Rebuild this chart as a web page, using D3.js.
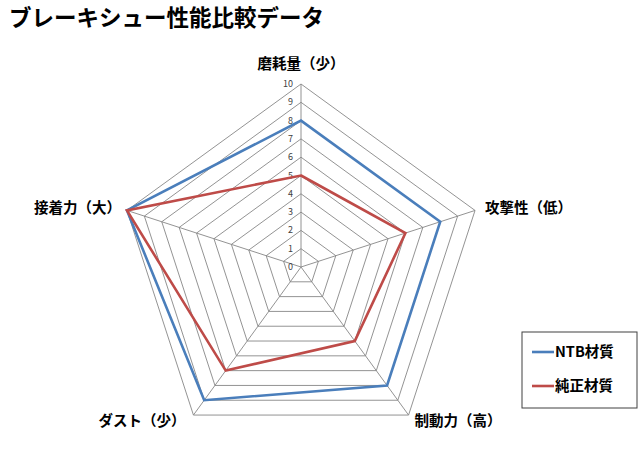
<!DOCTYPE html>
<html>
<head>
<meta charset="utf-8">
<script src="https://cdn.jsdelivr.net/npm/d3@7"></script>
<style>
  body { margin: 0; background: #fff; }
  text { font-family: "Noto Sans CJK JP", "Noto Sans", sans-serif; }
</style>
</head>
<body>
<div id="radar-chart"></div>
<script>
const axes = ["磨耗量（少）", "攻撃性（低）", "制動力（高）", "ダスト（少）", "接着力（大）"]
const ntb = [8, 8, 8, 9, 10]
const genuine = [5, 6, 5, 7, 10]
const tickLabels = [0, 1, 2, 3, 4, 5, 6, 7, 8, 9, 10]
const seriesNames = ["NTB材質", "純正材質"]
const seriesColors = ["#4a7ebb", "#be4b48"]

const width = 640
const height = 454
const cx = 301
const cy = 267

const svg = d3.select("#radar-chart")
  .append("svg")
  .attr("width", width)
  .attr("height", height)

// title
svg.append("text")
  .attr("x", 9)
  .attr("y", 26)
  .style("font-size", "22.5px")
  .style("font-weight", "bold")
  .text("ブレーキシュー性能比較データ")

const r = d3.scaleLinear().domain([0, 10]).range([0, 183])
const angle = d3.scaleLinear().domain([0, axes.length]).range([0, 2 * Math.PI])

const g = svg.append("g").attr("transform", `translate(${cx},${cy})`)

const radial = d3.lineRadial()
  .angle((d, i) => angle(i))
  .radius(d => r(d))
  .curve(d3.curveLinearClosed)

// grid rings
g.selectAll(".ring")
  .data(tickLabels.slice(1))
  .join("path")
  .attr("d", v => radial(axes.map(() => v)))
  .attr("fill", "none")
  .attr("stroke", "#878787")
  .attr("stroke-width", 0.9)

// spokes
g.selectAll(".spoke")
  .data(axes)
  .join("line")
  .attr("x1", 0).attr("y1", 0)
  .attr("x2", (d, i) => d3.pointRadial(angle(i), r(10))[0])
  .attr("y2", (d, i) => d3.pointRadial(angle(i), r(10))[1])
  .attr("stroke", "#878787")
  .attr("stroke-width", 0.9)

// tick labels along the top axis
g.selectAll(".tick")
  .data(tickLabels)
  .join("text")
  .attr("x", -8)
  .attr("y", d => -r(d) + 3)
  .attr("text-anchor", "end")
  .style("font-size", "9px")
  .attr("fill", "#404040")
  .text(d => d)

// series
;[ntb, genuine].forEach((s, k) => {
  g.append("path")
    .attr("d", radial(s))
    .attr("fill", "none")
    .attr("stroke", seriesColors[k])
    .attr("stroke-width", 2.6)
    .attr("stroke-linejoin", "miter")
})

// axis labels
g.selectAll(".axis-label")
  .data(axes)
  .join("text")
  .each(function (d, i) {
    const [px, py] = d3.pointRadial(angle(i), r(10))
    const el = d3.select(this)
    if (Math.abs(px) < 1) {
      el.attr("x", px).attr("y", py - 15).attr("text-anchor", "middle")
    } else if (py < 0) {
      el.attr("x", px + (px > 0 ? 10 : -6)).attr("y", py + 3)
        .attr("text-anchor", px > 0 ? "start" : "end")
    } else {
      el.attr("x", px + (px > 0 ? 6 : -8)).attr("y", py + 11)
        .attr("text-anchor", px > 0 ? "start" : "end")
    }
  })
  .style("font-size", "14.5px")
  .style("font-weight", "bold")
  .text(d => d)

// legend
const legend = svg.append("g").attr("transform", "translate(522,332)")
legend.append("rect")
  .attr("width", 115)
  .attr("height", 76)
  .attr("fill", "#fff")
  .attr("stroke", "#404040")
  .attr("stroke-width", 1)

seriesNames.forEach((name, k) => {
  const y = 20 + k * 34
  legend.append("line")
    .attr("x1", 10).attr("x2", 32)
    .attr("y1", y).attr("y2", y)
    .attr("stroke", seriesColors[k])
    .attr("stroke-width", 2.6)
  legend.append("text")
    .attr("x", 33)
    .attr("y", y + 5)
    .style("font-size", "14.5px")
    .style("font-weight", "bold")
    .text(name)
})
</script>
</body>
</html>
